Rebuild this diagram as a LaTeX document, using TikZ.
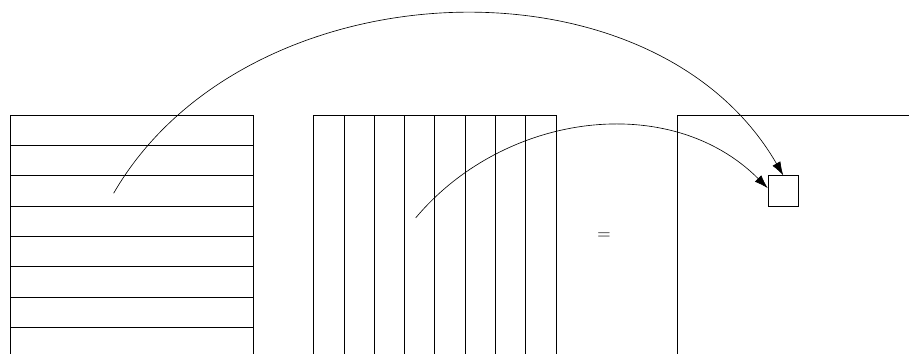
\documentclass[tikz,border=0pt]{standalone}
\usetikzlibrary{arrows.meta}
\begin{document}
\begin{tikzpicture}
[
	grid/.style={line width=0.7pt},
	cell/.style={draw,line width=0.7pt,inner sep=0pt,minimum size=1cm},
	link/.style={line width=0.6pt,-{Latex[length=4.5mm,width=3mm]}}
]

	\useasboundingbox (-0.35,3.8) rectangle (29.65,-7.883);
	\clip (-0.35,3.8) rectangle (29.65,-7.883);

	% row-wise matrix
	\draw[grid] (0,0) rectangle (8,-8);
	\foreach \y in {1,...,7}
		\draw[grid] (0,-\y) -- (8,-\y);

	% column-wise matrix
	\draw[grid] (10,0) rectangle (18,-8);
	\foreach \x in {11,...,17}
		\draw[grid] (\x,0) -- (\x,-8);

	\node at (19.58,-3.98) (eq) {\LARGE $=$};

	% result matrix
	\draw[grid] (22,0) rectangle (30,-8);
	\node[cell] at (25.5,-2.5) (c) {};

	\coordinate (row) at (3.4,-2.58);
	\coordinate (col) at (13.37,-3.39);

	\draw[link] (row) to[out=60,in=120] (c.north);
	\draw[link] (col) to[out=50,in=135] (c.170);

\end{tikzpicture}
\end{document}
